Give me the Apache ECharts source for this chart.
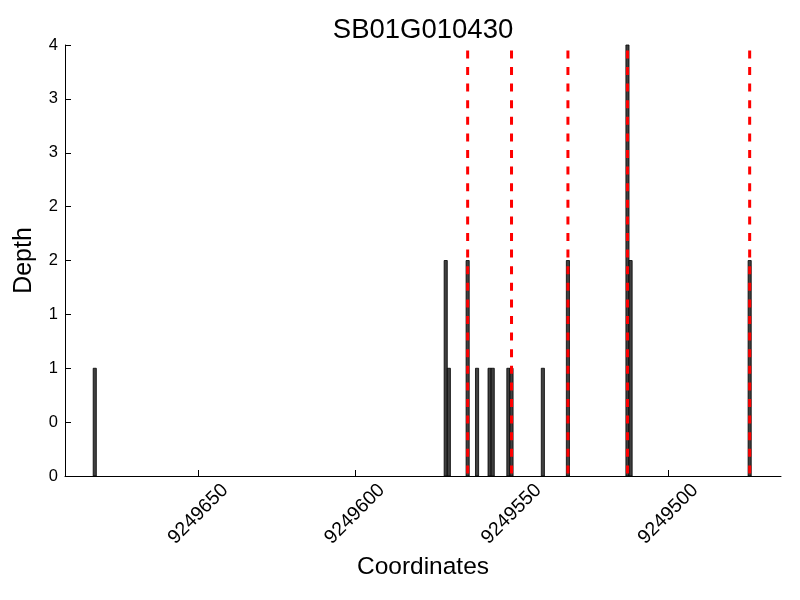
<!DOCTYPE html>
<html>
<head>
<meta charset="utf-8">
<script src="https://cdn.jsdelivr.net/npm/echarts@6/dist/echarts.min.js"></script>
<style>html,body{margin:0;padding:0;background:#fff}#c{width:800px;height:600px}</style>
</head>
<body>
<div id="c"></div>
<script>
// Data
const titleText = "SB01G010430";
const coords = [9249683, 9249571, 9249570, 9249564, 9249561, 9249557, 9249556, 9249551, 9249550, 9249540, 9249532, 9249513, 9249512, 9249474];
const depths = [1, 2, 1, 2, 1, 1, 1, 1, 1, 1, 2, 4, 2, 2];
const markerCoords = [9249564, 9249550, 9249532, 9249513, 9249474];
const markerTop = 3.95;
const xTicks = [9249650, 9249600, 9249550, 9249500];
const xMin = 9249464, xMax = 9249692.5;

const FONT = "Liberation Sans, Arial, Helvetica, sans-serif";
const chart = echarts.init(document.getElementById('c'), null, {renderer: 'canvas'});

const barData = coords.map((c, i) => [c, depths[i]]);
const lineData = markerCoords.map(c => [c, markerTop]);

chart.setOption({
  animation: false,
  backgroundColor: '#fff',
  title: {
    text: titleText,
    left: 418, top: 11, textAlign: 'center',
    textStyle: {fontFamily: FONT, fontSize: 27.5, fontWeight: 'normal', color: '#000'}
  },
  grid: {left: 65, right: 19, top: 45, bottom: 124, containLabel: false},
  xAxis: {
    type: 'value', inverse: true, min: xMin, max: xMax,
    name: 'Coordinates', nameLocation: 'middle', nameGap: 79,
    nameTextStyle: {fontFamily: FONT, fontSize: 24.5, color: '#000'},
    axisLine: {show: true, onZero: false, lineStyle: {color: '#000', width: 1}},
    axisTick: {show: true, inside: true, length: 6, customValues: xTicks, lineStyle: {color: '#000'}},
    axisLabel: {
      customValues: xTicks, rotate: 45, align: 'center', verticalAlign: 'middle', margin: 38,
      fontFamily: FONT, fontSize: 19.5, color: '#000',
      formatter: v => String(v)
    },
    splitLine: {show: false}
  },
  yAxis: {
    type: 'value', min: 0, max: 4, interval: 0.5,
    name: 'Depth', nameLocation: 'middle', nameGap: 28,
    nameTextStyle: {fontFamily: FONT, fontSize: 25, color: '#000'},
    axisLine: {show: true, onZero: false, lineStyle: {color: '#000', width: 1}},
    axisTick: {show: true, inside: true, length: 6, lineStyle: {color: '#000'}},
    axisLabel: {margin: 7, fontFamily: FONT, fontSize: 16.5, color: '#000', formatter: v => String(Math.floor(v))},
    splitLine: {show: false}
  },
  series: [
    {
      type: 'custom', z: 2,
      data: barData,
      renderItem: function (params, api) {
        const c = api.value(0), h = api.value(1);
        const p1 = api.coord([c + 0.5, h]);
        const p2 = api.coord([c - 0.5, 0]);
        const x = Math.min(p1[0], p2[0]);
        return {
          type: 'rect',
          shape: {x: x, y: p1[1], width: Math.abs(p2[0] - p1[0]), height: p2[1] - p1[1]},
          style: {fill: '#404040', stroke: '#000', lineWidth: 0.8}
        };
      }
    },
    {
      type: 'custom', z: 3,
      data: lineData,
      renderItem: function (params, api) {
        const c = api.value(0), t = api.value(1);
        const top = api.coord([c, t]);
        const bot = api.coord([c, 0]);
        return {
          type: 'line',
          shape: {x1: top[0], y1: top[1], x2: bot[0], y2: bot[1]},
          style: {stroke: '#ff0000', lineWidth: 3, lineDash: [8, 8.6]}
        };
      }
    }
  ]
});
</script>
</body>
</html>
